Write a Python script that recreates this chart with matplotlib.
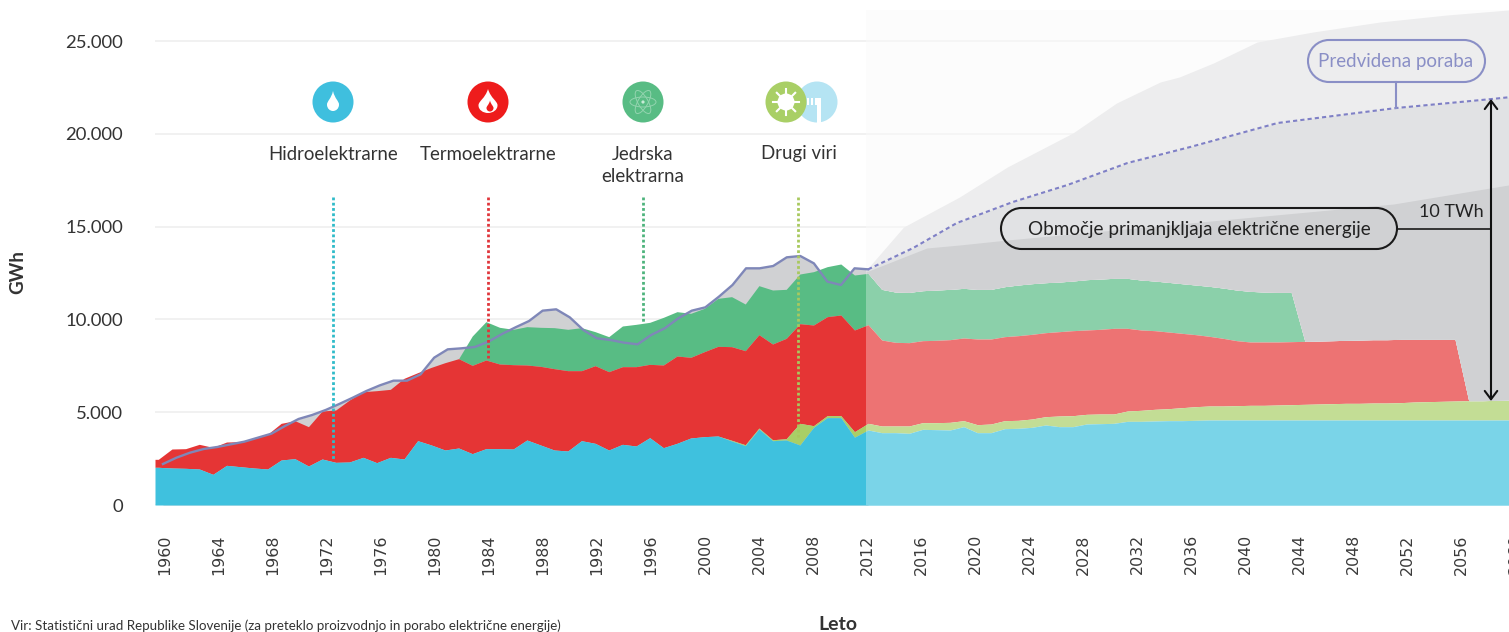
import numpy as np
import matplotlib
matplotlib.use("Agg")
import matplotlib.pyplot as plt
from matplotlib.patches import Circle, PathPatch, Ellipse, Rectangle, FancyArrowPatch
from matplotlib.path import Path

plt.rcParams['font.family'] = ['Lato', 'DejaVu Sans']

# ---------- data (GWh), cumulative tops of the stacked areas ----------
years_past = np.arange(1960, 2013)
hydro_past = [2030, 1994, 1976, 1940, 1652, 2137, 2065, 1994, 1940, 2425, 2496, 2101, 2478, 2299, 2317, 2568, 2281,
              2568, 2478, 3466, 3233, 2963, 3071, 2766, 3035, 3035, 3017, 3502, 3233, 2963, 2910, 3466, 3323, 2963,
              3269, 3179, 3628, 3089, 3323, 3610, 3682, 3718, 3448, 3197, 4095, 3466, 3502, 3233, 4185, 4706, 4706,
              3653, 4041]
other_past = [0] * 42 + [40, 50, 50, 50, 70, 1167, 89, 107, 107, 298, 359]
thermal_past = [2461, 3017, 3035, 3269, 3107, 3394, 3412, 3592, 3808, 4400, 4544, 4221, 5065, 5119, 5657, 6106, 6160,
                6232, 6825, 7130, 7417, 7669, 7884, 7525, 7813, 7597, 7561, 7543, 7471, 7346, 7238, 7238, 7507, 7184,
                7453, 7453, 7579, 7543, 8028, 7956, 8262, 8549, 8531, 8315, 9178, 8675, 8980, 9770, 9698, 10147,
                10237, 9429, 9716]
nuclear_from_1983 = [9106, 9878, 9573, 9465, 9609, 9573, 9555, 9465, 9555, 9339, 9070, 9645, 9734, 9842, 10111, 10417,
                     10327, 10596, 11135, 11225, 10830, 11818, 11584, 11620, 12446, 12572, 12841, 12985, 12392, 12482]
demand_past = [2209, 2550, 2820, 3017, 3125, 3269, 3412, 3628, 3843, 4257, 4634, 4849, 5119, 5442, 5783, 6142, 6448,
               6699, 6699, 7040, 7938, 8387, 8441, 8513, 8800, 9213, 9573, 9914, 10471, 10543, 10111, 9429, 8980, 8890,
               8747, 8657, 9160, 9519, 10058, 10471, 10650, 11225, 11854, 12752, 12752, 12877, 13344, 13416, 13021,
               12033, 11854, 12752, 12698]

years_fut = np.arange(2013, 2061)
hydro_fut = [3897, 3897, 3861, 4077, 4059, 4041, 4221, 3897, 3897, 4113, 4131, 4185, 4310, 4221, 4221, 4364, 4382, 4400,
             4508, 4508, 4526, 4544, 4544, 4562] + [4580] * 24
other_fut = [4257, 4257, 4257, 4436, 4436, 4454, 4544, 4328, 4364, 4544, 4562, 4634, 4759, 4795, 4813, 4885, 4903, 4903,
             5065, 5101, 5155, 5190, 5244, 5298, 5334, 5334, 5352, 5370, 5370, 5388, 5406, 5424, 5442, 5460, 5478, 5478,
             5496, 5496, 5514, 5550, 5568, 5586, 5604, 5621, 5621, 5639, 5657, 5657]
thermal_fut = [8890, 8764, 8747, 8854, 8872, 8908, 8998, 8944, 8944, 9070, 9124, 9196, 9285, 9339, 9393, 9429, 9465, 9519,
               9519, 9429, 9393, 9321, 9249, 9178, 9088, 8980, 8854, 8782, 8782, 8782, 8800, 8818, 8836, 8854, 8872, 8890,
               8908, 8908, 8926, 8926, 8926, 8926, 8926, 5621, 5621, 5639, 5657, 5657]
nuclear_fut = [11620, 11476, 11459, 11548, 11584, 11620, 11674, 11620, 11620, 11764, 11854, 11925, 11979, 12015, 12069,
               12141, 12177, 12213, 12213, 12123, 12069, 11997, 11925, 11854, 11782, 11692, 11584, 11512, 11476, 11459,
               11459]
demand_fut_years = [2012, 2015.3, 2018.5, 2022.6, 2026.6, 2031, 2035.6, 2042, 2050.7, 2057.7, 2060]
demand_fut = [12698, 13847, 15194, 16325, 17241, 18427, 19289, 20582, 21390, 21875, 22050]
upper_years = [2012, 2014.6, 2018.7, 2022.2, 2027, 2030.2, 2033.4, 2034.8, 2037.3, 2040.5, 2044.6, 2049.5, 2054.4, 2058.9, 2060]
upper_band = [12770, 14978, 16595, 18211, 20043, 21659, 22791, 23060, 23815, 24946, 25485, 26024, 26401, 26670, 26700]
lower_years = [2012, 2016.3, 2018.7, 2022.2, 2050.5, 2058.9, 2060]
lower_band = [12600, 13847, 14009, 14278, 16218, 17241, 17300]

tick_years = np.arange(1960, 2061, 4)
y_ticks = [0, 5000, 10000, 15000, 20000, 25000]
y_labels = ['0', '5.000', '10.000', '15.000', '20.000', '25.000']

C_HYDRO, C_THERM, C_NUC, C_OTHER = '#3FC1DE', '#E53535', '#58BC84', '#A9CF66'
C_DARK, C_MID, C_LIGHT = '#D0D1D3', '#E1E2E4', '#EDEDEE'
C_LINE = '#7F87B8'
W, H = 1509, 632
PX_YEAR = 13.65
X_LEFT, Y0, PX_GWH = 155, 505, 0.01856

# ---------- derived stacks ----------
years = np.r_[years_past, years_fut]
hydro = np.r_[hydro_past, hydro_fut]
other = np.r_[np.array(hydro_past) + np.array(other_past), other_fut]
thermal = np.r_[thermal_past, thermal_fut]
nuclear = np.r_[thermal_past[:23], nuclear_from_1983, nuclear_fut, thermal_fut[31:]]

fig = plt.figure(figsize=(W / 100, H / 100), dpi=100)
ax = fig.add_axes([X_LEFT / W, (H - Y0) / H, (1520 - X_LEFT) / W, Y0 / H])
x_min = 1960 - (158.3 - X_LEFT) / PX_YEAR
x_max = x_min + (1520 - X_LEFT) / PX_YEAR
ax.set_xlim(x_min, x_max)
ax.set_ylim(0, Y0 / PX_GWH)
split = x_min + (866 - X_LEFT) / PX_YEAR

# faint forecast background
ax.add_patch(Rectangle((split, 0), x_max - split, 26670, color='#FBFBFB', lw=0, zorder=0))
ax.set_axisbelow(True)
ax.yaxis.grid(True, color='#EEEEEE', lw=1.1, zorder=1)
ax.xaxis.grid(False)
for s in ax.spines.values():
    s.set_visible(False)

# consumption: past grey wedge under the line
line_x = 1960.34 + (years_past - 1960) * (2012 - 1960.34) / 52
ax.fill_between(line_x, 0, demand_past, color=C_DARK, lw=0, zorder=2)

# stacked generation
xa = np.r_[x_min, years]
pad = lambda a: np.r_[a[0], a]
ax.fill_between(xa, pad(thermal), pad(nuclear), color=C_NUC, lw=0, zorder=3)
ax.fill_between(xa, pad(other), pad(thermal), color=C_THERM, lw=0, zorder=3)
ax.fill_between(xa, pad(hydro), pad(other), color=C_OTHER, lw=0, zorder=3)
ax.fill_between(xa, 0, pad(hydro), color=C_HYDRO, lw=0, zorder=3)

# forecast part is paler
ax.axvspan(split, x_max, color='white', alpha=0.31, lw=0, zorder=4)

# forecast grey bands above the stack
xf = np.arange(split, x_max + 0.05, 0.05)
top = np.interp(xf, years, nuclear)
ax.fill_between(xf, top, np.maximum(top, np.interp(xf, upper_years, upper_band)), color=C_LIGHT, lw=0, zorder=5)
ax.fill_between(xf, top, np.maximum(top, np.interp(xf, demand_fut_years, demand_fut)), color=C_MID, lw=0, zorder=5)
ax.fill_between(xf, top, np.maximum(top, np.interp(xf, lower_years, lower_band)), color=C_DARK, lw=0, zorder=5)

# consumption lines
ax.plot(line_x, demand_past, color=C_LINE, lw=1.7, zorder=6, solid_joinstyle='round')
ax.plot(demand_fut_years, demand_fut, color='#7F80C6', lw=1.5, ls=(0, (2, 1.5)), zorder=6)

# ticks
tick_pos = 1960 + ((165 + 13.5 * (tick_years - 1960)) - 158.3) / PX_YEAR
ax.set_xticks(tick_pos)
ax.set_xticklabels([str(y) for y in tick_years], rotation=90, family='DejaVu Sans', fontsize=11.4, color='#3A3A3A')
ax.set_yticks(y_ticks)
ax.set_yticklabels(y_labels, fontsize=13.3, color='#333333')
ax.tick_params(axis='both', length=0)
ax.tick_params(axis='x', pad=21)
ax.tick_params(axis='y', pad=23)

# ---------- overlay in pixel coordinates ----------
ov = fig.add_axes([0, 0, 1, 1], facecolor='none')
ov.set_xlim(0, W)
ov.set_ylim(H, 0)
ov.axis('off')

TXT = '#333333'
ov.text(18, 272, 'GWh', rotation=90, ha='center', va='center', fontsize=13.5, fontweight='bold', color=TXT)
ov.text(838, 624, 'Leto', ha='center', va='center', fontsize=14, fontweight='bold', color=TXT)
ov.text(11, 626, 'Vir: Statistični urad Republike Slovenije (za preteklo proizvodnjo in porabo električne energije)',
        ha='left', va='center', fontsize=9.65, color=TXT)

labels = [(333, 154, 'Hidroelektrarne'), (488, 154, 'Termoelektrarne'), (643, 154, 'Jedrska'),
          (643, 177, 'elektrarna'), (799, 154, 'Drugi viri')]
for x, y, t in labels:
    ov.text(x, y, t, ha='center', va='center', fontsize=13.4, color=TXT)

# dotted leaders
for x, y1, y2, c in [(333, 197, 460, '#2FBBC9'), (488, 197, 358, '#E0353B'), (643, 197, 322, '#4DB37C'),
                     (798, 197, 437, '#A8C95E')]:
    ov.plot([x, x], [y1, y2], color=c, lw=2, ls=(0, (1, 0.9)), zorder=3)


def drop(cx, cy, w, h, color):
    v = [(cx, cy - h / 2), (cx + w * 0.15, cy - h * 0.1), (cx + w / 2, cy), (cx + w / 2, cy + h * 0.18),
         (cx + w / 2, cy + h * 0.38), (cx + w * 0.25, cy + h / 2), (cx, cy + h / 2),
         (cx - w * 0.25, cy + h / 2), (cx - w / 2, cy + h * 0.38), (cx - w / 2, cy + h * 0.18),
         (cx - w / 2, cy), (cx - w * 0.15, cy - h * 0.1), (cx, cy - h / 2)]
    codes = [Path.MOVETO] + [Path.CURVE4] * 12
    ov.add_patch(PathPatch(Path(v, codes), fc=color, ec='none', zorder=6))


def pill(x0, y0, x1, y1, ec, lw):
    r = (y1 - y0) / 2
    k = 0.5523 * r
    v = [(x0 + r, y0), (x1 - r, y0),
         (x1 - r + k, y0), (x1, y0 + r - k), (x1, y0 + r),
         (x1, y0 + r + k), (x1 - r + k, y1), (x1 - r, y1),
         (x0 + r, y1),
         (x0 + r - k, y1), (x0, y0 + r + k), (x0, y0 + r),
         (x0, y0 + r - k), (x0 + r - k, y0), (x0 + r, y0), (x0 + r, y0)]
    c = [Path.MOVETO, Path.LINETO] + [Path.CURVE4] * 6 + [Path.LINETO] + [Path.CURVE4] * 6 + [Path.CLOSEPOLY]
    ov.add_patch(PathPatch(Path(v, c), fc='none', ec=ec, lw=lw, zorder=7))


# icons
R = 20.5
IY = 102
ov.add_patch(Circle((333, IY), R, fc='#3FBFDE', ec='none', zorder=4))
drop(333, IY - 1, 12, 20, 'white')
ov.add_patch(Circle((488, IY), R, fc='#EE1C1C', ec='none', zorder=4))
drop(488, IY - 1, 19, 24, 'white')
drop(490, IY + 4, 7, 11, '#EE1C1C')
ov.add_patch(Circle((643, IY), R, fc='#58BC84', ec='none', zorder=4))
for ang in (0, 60, 120):
    ov.add_patch(Ellipse((643, IY), 26, 10, angle=ang, fc='none', ec='#93D4AF', lw=0.7, zorder=6))
ov.add_patch(Circle((643, IY), 1.6, fc='#C8EBD7', ec='none', zorder=6))
ov.add_patch(Circle((817, IY), R, fc='#B5E4F3', ec='none', zorder=4))
ov.add_patch(Rectangle((817, 98), 4, 26, fc='white', ec='none', zorder=5))
for xb in (807, 811, 815):
    ov.add_patch(Rectangle((xb, 98), 2.2, 7, fc='white', ec='none', zorder=5))
ov.add_patch(Circle((786, IY), R, fc='#A9CF66', ec='none', zorder=5))
ov.add_patch(Circle((786, IY), 8.5, fc='white', ec='none', zorder=6))
for a in np.deg2rad(np.arange(0, 360, 45)):
    ov.plot([786 + 8 * np.cos(a), 786 + 13 * np.cos(a)],
            [IY + 8 * np.sin(a), IY + 13 * np.sin(a)], color='white', lw=1.5, zorder=6)

# callout: shortage
pill(1001, 208, 1397, 249, '#1A1A1A', 1.5)
ov.text(1199, 229, 'Območje primanjkljaja električne energije', ha='center', va='center', fontsize=13.6,
        color='#222222', zorder=8)
ov.plot([1397, 1491], [229, 229], color='#1A1A1A', lw=1.2, zorder=7)
ov.text(1451, 212, '10 TWh', ha='center', va='center', fontsize=13, color='#222222', zorder=8)
ov.add_patch(FancyArrowPatch((1491, 401), (1491, 99), arrowstyle='<->,head_length=6,head_width=4.5', color='#111111',
                             lw=1.5, shrinkA=0, shrinkB=0, zorder=7))

# callout: forecast
pill(1308, 40, 1485, 82, '#8A8FC6', 1.5)
ov.text(1396, 61, 'Predvidena poraba', ha='center', va='center', fontsize=13.5, color='#8A8FC6', zorder=8)
ov.plot([1396, 1396], [82, 108], color='#8A8FC6', lw=1.5, zorder=7)

fig.savefig('out.png', dpi=100)
